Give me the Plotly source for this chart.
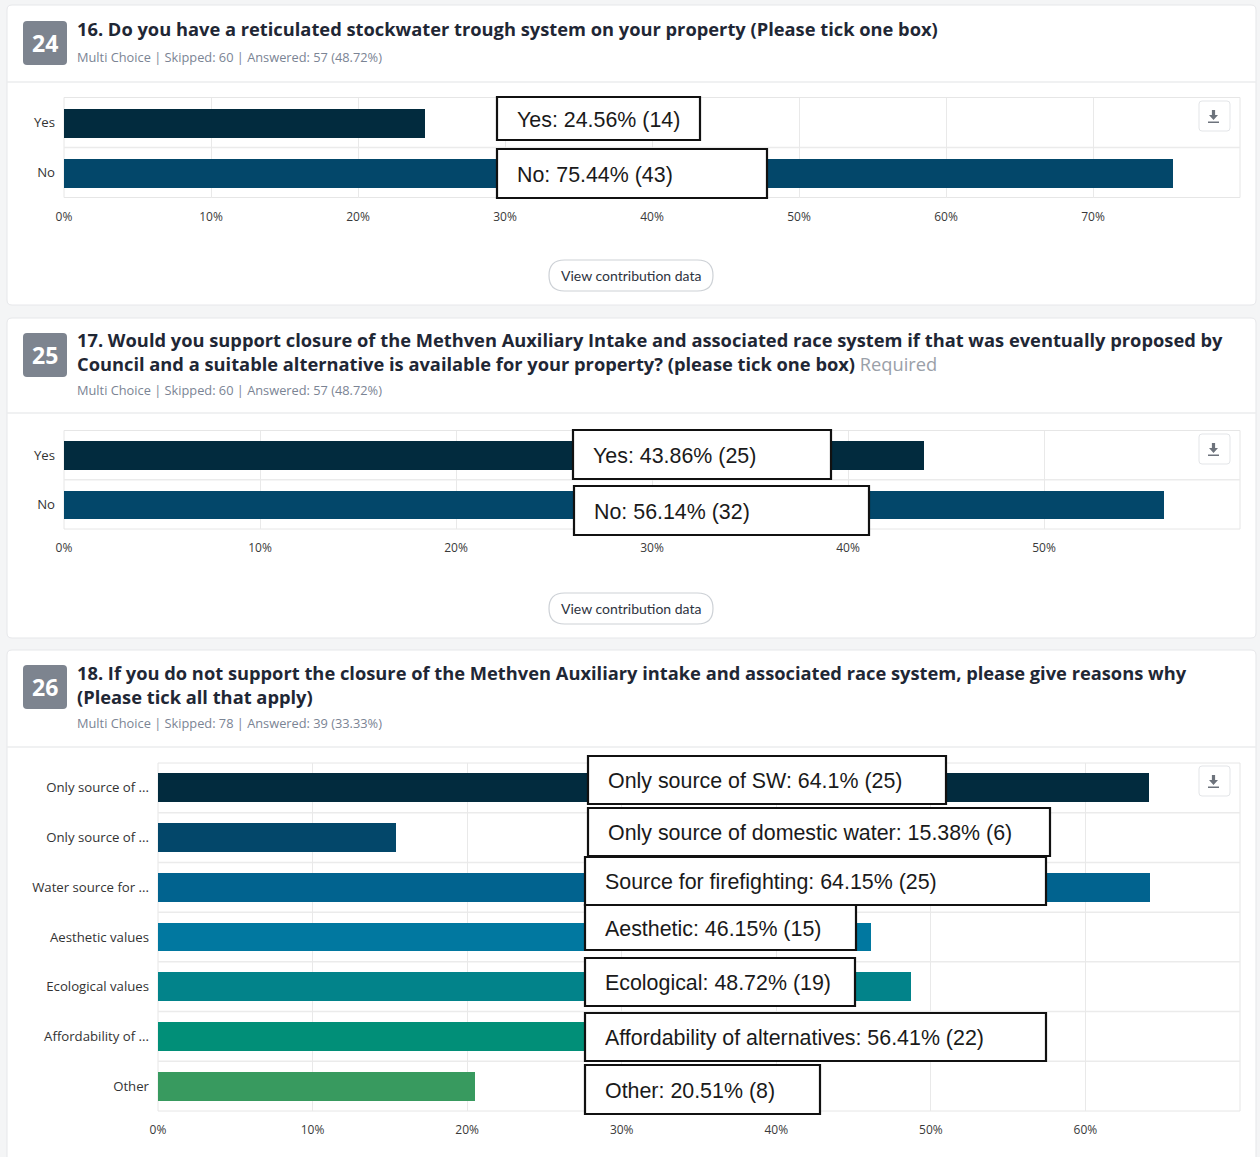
import plotly.graph_objects as go

# ---------------- data ----------------
q16_labels = ["Yes", "No"]
q16_pct = [24.56, 75.44]
q16_counts = [14, 43]

q17_labels = ["Yes", "No"]
q17_pct = [43.86, 56.14]
q17_counts = [25, 32]

q18_labels = ["Only source of ...", "Only source of ...", "Water source for ...",
              "Aesthetic values", "Ecological values", "Affordability of ...", "Other"]
q18_callout_names = ["Only source of SW", "Only source of domestic water",
                     "Source for firefighting", "Aesthetic", "Ecological",
                     "Affordability of alternatives", "Other"]
q18_pct = [64.1, 15.38, 64.15, 46.15, 48.72, 56.41, 20.51]
q18_counts = [25, 6, 25, 15, 19, 22, 8]

bar_colors = ["#022b3e", "#03476a", "#01638f", "#0178a0", "#02838a", "#018f78", "#389a5f"]

W, H = 1260, 1157


def X(px):
    return px / W


def Y(py):
    return 1 - py / H


def rrect(x0, y0, x1, y1, r):
    def p(x, y):
        return f"{X(x):.6f},{Y(y):.6f}"
    return (f"M {p(x0 + r, y0)} L {p(x1 - r, y0)} Q {p(x1, y0)} {p(x1, y0 + r)} "
            f"L {p(x1, y1 - r)} Q {p(x1, y1)} {p(x1 - r, y1)} "
            f"L {p(x0 + r, y1)} Q {p(x0, y1)} {p(x0, y1 - r)} "
            f"L {p(x0, y0 + r)} Q {p(x0, y0)} {p(x0 + r, y0)} Z")


HEAD = "'Open Sans', Lato, sans-serif"
TICK = "'Open Sans', sans-serif"
CALL = "Arial, 'Liberation Sans', sans-serif"
TITLE_C = "#1f2735"
META_C = "#7b8494"
PADX = 3  # annotation inner offset compensation

fig = go.Figure()
shapes = []
annotations = []

# ---------------- cards ----------------
cards = [(7, 5, 1256, 305, 82), (7, 318, 1256, 638, 413), (7, 650, 1256, 1175, 747)]
for (x0, y0, x1, y1, sep) in cards:
    shapes.append(dict(type="path", path=rrect(x0, y0, x1, y1, 5), xref="paper", yref="paper",
                       fillcolor="white", line=dict(color="#e6e7ea", width=1), layer="below"))
    shapes.append(dict(type="line", xref="paper", yref="paper", x0=X(x0), x1=X(x1),
                       y0=Y(sep), y1=Y(sep), line=dict(color="#ebecee", width=1.5), layer="below"))

# ---------------- headers ----------------
headers = [
    ("24", 21, "<b>16. Do you have a reticulated stockwater trough system on your property (Please tick one box)</b>",
     29, "Multi Choice | Skipped: 60 | Answered: 57 (48.72%)", 57),
    ("25", 333, "<b>17. Would you support closure of the Methven Auxiliary Intake and associated race system if that was eventually proposed by</b><br>"
                "<b>Council and a suitable alternative is available for your property? (please tick one box)</b> <span style='color:#9aa0a8'>Required</span>",
     351, "Multi Choice | Skipped: 60 | Answered: 57 (48.72%)", 390),
    ("26", 665, "<b>18. If you do not support the closure of the Methven Auxiliary intake and associated race system, please give reasons why</b><br>"
                "<b>(Please tick all that apply)</b>",
     684, "Multi Choice | Skipped: 78 | Answered: 39 (33.33%)", 723),
]
for num, by, title, ty, meta, my in headers:
    shapes.append(dict(type="path", path=rrect(23, by, 67, by + 44, 4), xref="paper", yref="paper",
                       fillcolor="#7d848f", line=dict(width=0)))
    annotations.append(dict(text=f"<b>{num}</b>", x=X(45), y=Y(by + 22), xref="paper", yref="paper",
                            showarrow=False, font=dict(family=HEAD, size=23, color="white"),
                            xanchor="center", yanchor="middle"))
    annotations.append(dict(text=title, x=X(78 - PADX), y=Y(ty), xref="paper", yref="paper", showarrow=False,
                            font=dict(family=HEAD, size=18.3, color=TITLE_C), align="left",
                            xanchor="left", yanchor="middle"))
    annotations.append(dict(text=meta, x=X(78 - PADX), y=Y(my), xref="paper", yref="paper", showarrow=False,
                            font=dict(family=HEAD, size=12.8, color=META_C),
                            xanchor="left", yanchor="middle"))

# ---------------- charts ----------------
charts = [
    dict(s="", labels=q16_labels, pct=q16_pct, xr=80, px0=64, px1=1240, py0=97.5, py1=197.5,
         names=q16_labels, counts=q16_counts,
         boxes=[(497, 97, 700, 140), (497, 149, 767, 198)], dl=101, button=260),
    dict(s="2", labels=q17_labels, pct=q17_pct, xr=60, px0=64, px1=1240, py0=430.5, py1=529,
         names=q17_labels, counts=q17_counts,
         boxes=[(573, 430, 831, 479), (574, 486, 869, 535)], dl=434, button=593),
    dict(s="3", labels=q18_labels, pct=q18_pct, xr=70, px0=158, px1=1240, py0=763, py1=1111,
         names=q18_callout_names, counts=q18_counts,
         boxes=[(588, 756, 946, 804), (588, 808, 1050, 856), (585, 857, 1046, 905),
                (585, 905, 856, 950), (585, 958, 855, 1006), (585, 1013, 1046, 1061),
                (585, 1065, 820, 1114)], dl=766, button=None),
]

layout_axes = {}
for c in charts:
    s = c["s"]
    n = len(c["labels"])
    fig.add_trace(go.Bar(
        x=c["pct"], y=list(range(n)), orientation="h",
        marker=dict(color=bar_colors[:n], line=dict(width=0)),
        width=0.58, xaxis="x" + s, yaxis="y" + s, hoverinfo="skip", showlegend=False))
    tv = list(range(0, c["xr"], 10))
    layout_axes["xaxis" + s] = dict(
        domain=[X(c["px0"]), X(c["px1"])], range=[0, c["xr"]], automargin=False,
        tickmode="array", tickvals=tv, ticktext=[f"{v}%" for v in tv],
        showgrid=True, gridcolor="#e9e9e9", gridwidth=1, zeroline=False, showline=False,
        ticks="", tickfont=dict(family=TICK, size=12, color="#3a3a3a"),
        ticklabelstandoff=10, anchor="y" + s, fixedrange=True)
    layout_axes["yaxis" + s] = dict(
        domain=[Y(c["py1"]), Y(c["py0"])], range=[n - 0.5, -0.5], automargin=False,
        tickmode="array", tickvals=list(range(n)), ticktext=c["labels"],
        showgrid=False, zeroline=False, showline=False, ticks="",
        tickfont=dict(family=TICK, size=13.2, color="#333333"),
        ticklabelstandoff=8, anchor="x" + s, fixedrange=True)
    xd = ("x" + s if s else "x") + " domain"
    yd = ("y" + s if s else "y") + " domain"
    # plot border
    shapes.append(dict(type="rect", xref=xd, yref=yd, x0=0, x1=1, y0=0, y1=1,
                       line=dict(color="#e6e6e6", width=1), layer="below"))
    # band separators
    for i in range(n - 1):
        shapes.append(dict(type="line", xref=xd, yref="y" + s, x0=0, x1=1, y0=i + 0.5, y1=i + 0.5,
                           line=dict(color="#ebebeb", width=1.5), layer="below"))
    # callouts
    for name, v, cnt, (bx0, by0, bx1, by1) in zip(c["names"], c["pct"], c["counts"], c["boxes"]):
        shapes.append(dict(type="rect", xref="paper", yref="paper", x0=X(bx0), x1=X(bx1),
                           y0=Y(by1), y1=Y(by0), fillcolor="white",
                           line=dict(color="#111111", width=2.2), layer="above"))
        annotations.append(dict(text=f"{name}: {v:g}% ({cnt})", x=X(bx0 + 21 - PADX),
                                y=Y((by0 + by1) / 2 + 1),
                                xref="paper", yref="paper", showarrow=False, xanchor="left",
                                yanchor="middle", font=dict(family=CALL, size=21.4, color="#1a1a1a")))
    # download button
    dy = c["dl"]
    shapes.append(dict(type="path", path=rrect(1199, dy, 1230, dy + 30, 3), xref="paper", yref="paper",
                       fillcolor="white", line=dict(color="#e3e5e8", width=1)))
    cx = 1213.5
    arrow = (f"M {X(cx - 1.6)},{Y(dy + 9)} L {X(cx + 1.6)},{Y(dy + 9)} L {X(cx + 1.6)},{Y(dy + 14)} "
             f"L {X(cx + 4.5)},{Y(dy + 14)} L {X(cx)},{Y(dy + 19)} L {X(cx - 4.5)},{Y(dy + 14)} "
             f"L {X(cx - 1.6)},{Y(dy + 14)} Z")
    shapes.append(dict(type="path", path=arrow, xref="paper", yref="paper",
                       fillcolor="#6d737c", line=dict(width=0)))
    shapes.append(dict(type="rect", xref="paper", yref="paper", x0=X(cx - 5.5), x1=X(cx + 5.5),
                       y0=Y(dy + 22), y1=Y(dy + 20.5), fillcolor="#6d737c", line=dict(width=0)))
    # view contribution button
    if c["button"] is not None:
        b = c["button"]
        shapes.append(dict(type="path", path=rrect(549, b, 713, b + 31, 15.5), xref="paper", yref="paper",
                           fillcolor="white", line=dict(color="#cdd1d6", width=1.2)))
        annotations.append(dict(text="View contribution data", x=X(631), y=Y(b + 15.5), xref="paper",
                                yref="paper", showarrow=False, xanchor="center", yanchor="middle",
                                font=dict(family="Lato, sans-serif", size=14, color="#2d3340")))

fig.update_layout(
    template="none",
    width=W, height=H, margin=dict(l=0, r=0, t=0, b=0, pad=0, autoexpand=False),
    paper_bgcolor="#f4f5f6", plot_bgcolor="rgba(0,0,0,0)",
    shapes=shapes, annotations=annotations, bargap=0, showlegend=False,
    **layout_axes)

fig.write_html("out.html", config={"displayModeBar": False})
